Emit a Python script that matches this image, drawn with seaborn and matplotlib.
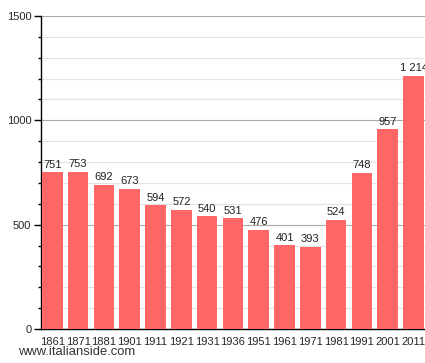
import matplotlib
matplotlib.use('Agg')
import matplotlib.pyplot as plt
from matplotlib.ticker import MultipleLocator
import seaborn as sns
import pandas as pd

years = ['1861', '1871', '1881', '1901', '1911', '1921', '1931', '1936',
         '1951', '1961', '1971', '1981', '1991', '2001', '2011']
population = [751, 753, 692, 673, 594, 572, 540, 531, 476, 401, 393, 524, 748, 957, 1214]
labels = ['751', '753', '692', '673', '594', '572', '540', '531',
          '476', '401', '393', '524', '748', '957', '1 214']

df = pd.DataFrame({'anno': years, 'abitanti': population})

sns.set_style('white')
plt.rcParams['font.family'] = ['Liberation Sans', 'DejaVu Sans']

fig = plt.figure(figsize=(4.25, 3.63), dpi=100)
# asse che prosegue oltre il bordo destro, come nell'originale
ax = fig.add_axes([41 / 425, 34 / 363, 14.94 * 25.8 / 425, 313 / 363])

sns.barplot(data=df, x='anno', y='abitanti', ax=ax, color='#ff6666',
            saturation=1, width=0.8, linewidth=0, zorder=3)

ax.set_xlim(-0.44, 14.5)
ax.set_ylim(0, 1500)
ax.yaxis.set_major_locator(MultipleLocator(500))
ax.yaxis.set_minor_locator(MultipleLocator(100))
ax.grid(True, which='major', axis='y', color='#aaaaaa', linewidth=0.8, zorder=0)
ax.grid(True, which='minor', axis='y', color='#e2e2e2', linewidth=0.8, zorder=0)
ax.set_axisbelow(True)

for s in ['top', 'right']:
    ax.spines[s].set_visible(False)
for s in ['left', 'bottom']:
    ax.spines[s].set_color('black')
    ax.spines[s].set_linewidth(1)

ax.tick_params(axis='y', which='major', left=True, length=5, width=1,
               color='black', labelsize=8, pad=2)
ax.tick_params(axis='y', which='minor', left=True, length=2.5, width=1,
               color='black')
ax.tick_params(axis='x', bottom=False, labelsize=8, pad=2)
ax.set_xlabel('')
ax.set_ylabel('')

# etichette sopra le barre (l'ultima resta tagliata dal bordo, come nell'originale)
for i, (v, t) in enumerate(zip(population, labels)):
    ax.text(i, v + 12, t, ha='center', va='bottom', fontsize=8, color='#222222')

fig.text(18 / 425, 1 - 352 / 363, 'www.italianside.com', fontsize=9.4,
         color='#333333', va='center', ha='left')

fig.savefig('out.png', dpi=100)
